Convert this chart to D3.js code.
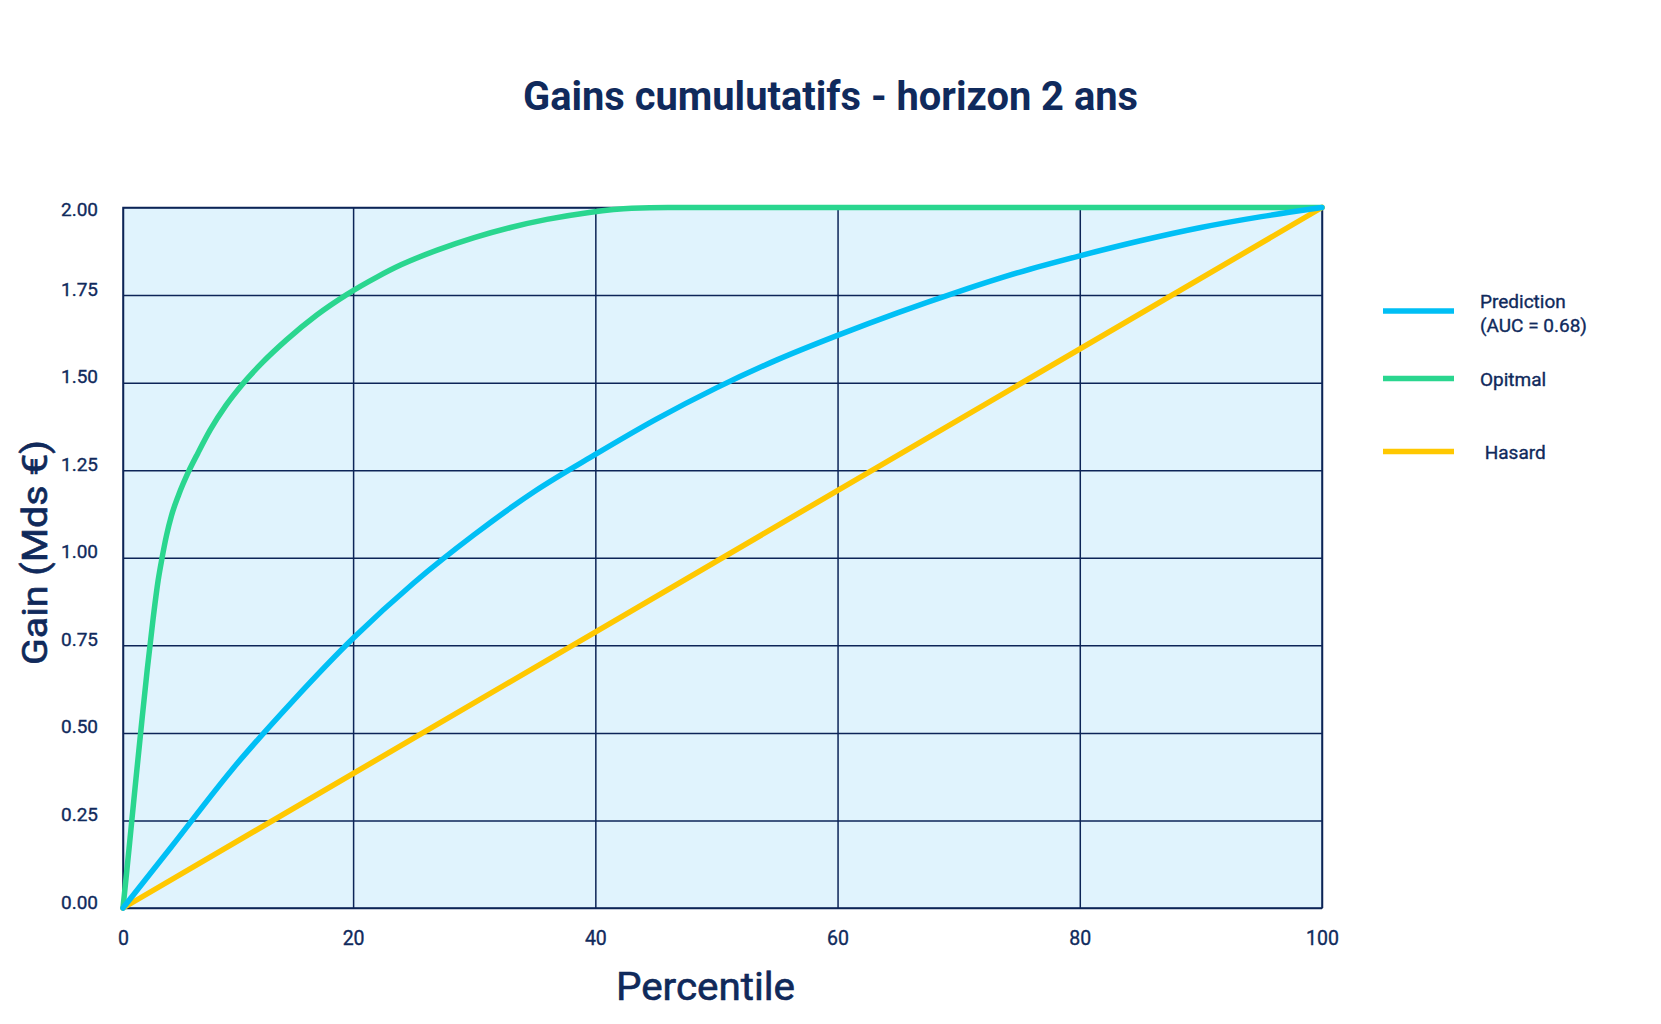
<!DOCTYPE html>
<html>
<head>
<meta charset="utf-8">
<script src="https://cdn.jsdelivr.net/npm/d3@7"></script>
<style>
  html, body { margin: 0; padding: 0; background: #ffffff; }
  svg { display: block; }
  text { font-family: Roboto, "Noto Sans", sans-serif; fill: #102a5c; }
</style>
</head>
<body>
<svg id="chart" width="1661" height="1024"></svg>
<script>
// ---------- data ----------
const title = "Gains cumulutatifs - horizon 2 ans";
const xTitle = "Percentile";
const yTitle = "Gain (Mds €)";

const xTickValues = [1, 20, 40, 60, 80, 100];
const xTickLabels = ["0", "20", "40", "60", "80", "100"];
const yTickValues = [0, 0.25, 0.5, 0.75, 1.0, 1.25, 1.5, 1.75, 2.0];

const seriesNames = ["Prediction\n(AUC = 0.68)", "Opitmal", " Hasard"];
const seriesColors = ["#00bff5", "#2ad68f", "#ffc800"];

// Prediction (model) cumulative gain
const predX = [1, 5, 10, 15, 20, 25, 30, 35, 40, 45, 50, 55, 60, 65, 70, 75, 80, 85, 90, 95, 100];
const predY = [0, 0.175, 0.395, 0.59, 0.77, 0.928, 1.066, 1.19, 1.295, 1.395, 1.485, 1.565, 1.635, 1.70, 1.76, 1.815, 1.862, 1.905, 1.943, 1.974, 2.0];

// Optimal cumulative gain
const optX = [1, 1.5, 2, 2.5, 3, 3.5, 3.9, 4.2, 4.6, 5.0, 5.6, 6.4, 7.2, 8.2, 9.5, 10.9, 12.5, 14.5, 17, 19.5, 22, 24, 27, 30, 33, 36, 39.5, 43, 46, 60, 80, 100];
const optY = [0, 0.17, 0.345, 0.515, 0.68, 0.83, 0.935, 0.995, 1.065, 1.12, 1.18, 1.245, 1.30, 1.365, 1.435, 1.497, 1.557, 1.622, 1.693, 1.752, 1.802, 1.837, 1.879, 1.914, 1.943, 1.966, 1.986, 1.998, 2.0, 2.0, 2.0, 2.0];

// Random (Hasard)
const randX = [1, 100];
const randY = [0, 2.0];

// ---------- layout ----------
const svg = d3.select("#chart");
const pLeft = 123, pRight = 1322, pTop = 207.5, pBottom = 908;
const navy = "#0c2457";

const x = d3.scaleLinear().domain([1, 100]).range([pLeft, pRight]);
const y = d3.scaleLinear().domain([0, 2]).range([pBottom, pTop]);

function fitWidth(sel, target) {
  const w = sel.node().getComputedTextLength();
  if (Math.abs(w - target) > 2) {
    sel.attr("textLength", target).attr("lengthAdjust", "spacingAndGlyphs");
  }
}

// plot background
svg.append("rect")
  .attr("x", pLeft).attr("y", pTop)
  .attr("width", pRight - pLeft).attr("height", pBottom - pTop)
  .attr("fill", "#e0f3fd");

// gridlines via axes
const gx = svg.append("g")
  .attr("transform", `translate(0,${pBottom})`)
  .call(d3.axisBottom(x).tickValues(xTickValues).tickSize(-(pBottom - pTop)).tickFormat((d, i) => xTickLabels[i]).tickPadding(23));
gx.select(".domain").remove();
gx.selectAll(".tick line").attr("stroke", navy).attr("stroke-width", 1.5);
gx.selectAll(".tick text")
  .attr("font-size", 19.5).attr("font-weight", 400)
  .attr("fill", "#102a5c").attr("font-family", "Roboto, sans-serif")
  .style("stroke", "#102a5c").style("stroke-width", 0.35);

const gy = svg.append("g")
  .attr("transform", `translate(${pLeft},0)`)
  .call(d3.axisLeft(y).tickValues(yTickValues).tickSize(-(pRight - pLeft)).tickFormat(d3.format(".2f")).tickPadding(25));
gy.select(".domain").remove();
gy.selectAll(".tick line").attr("stroke", navy).attr("stroke-width", 1.5);
gy.selectAll(".tick text")
  .attr("font-size", 19).attr("font-weight", 400)
  .attr("fill", "#102a5c").attr("font-family", "Roboto, sans-serif")
  .style("stroke", "#102a5c").style("stroke-width", 0.35)
  .attr("dy", d => d === 2 ? "0.4em" : "0")
  .attr("x", -(pLeft - 98));

// frame
svg.append("rect")
  .attr("x", pLeft).attr("y", pTop)
  .attr("width", pRight - pLeft).attr("height", pBottom - pTop)
  .attr("fill", "none").attr("stroke", navy).attr("stroke-width", 1.5);

// lines
const line = d3.line().x(d => x(d[0])).y(d => y(d[1])).curve(d3.curveMonotoneX);
const series = [
  { xs: optX, ys: optY, color: seriesColors[1] },
  { xs: randX, ys: randY, color: seriesColors[2] },
  { xs: predX, ys: predY, color: seriesColors[0] }
];
series.forEach(s => {
  svg.append("path")
    .datum(s.xs.map((v, i) => [v, s.ys[i]]))
    .attr("d", line)
    .attr("fill", "none")
    .attr("stroke", s.color)
    .attr("stroke-width", 5.5)
    .attr("stroke-linejoin", "round")
    .attr("stroke-linecap", "round");
});

// title
const t = svg.append("text")
  .attr("x", 830.5).attr("y", 110)
  .attr("text-anchor", "middle")
  .attr("font-size", 40).attr("font-weight", 700)
  .attr("fill", "#0d2656")
  .text(title);
fitWidth(t, 615);

// axis titles
const xt = svg.append("text")
  .attr("x", 705.5).attr("y", 1000)
  .attr("text-anchor", "middle")
  .attr("font-size", 38).attr("font-weight", 400)
  .attr("fill", "#0d2656")
  .style("stroke", "#0d2656").style("stroke-width", 0.6)
  .text(xTitle);
fitWidth(xt, 179);

const yt = svg.append("text")
  .attr("transform", "translate(47,552.5) rotate(-90)")
  .attr("text-anchor", "middle")
  .attr("font-size", 35).attr("font-weight", 400)
  .attr("fill", "#0d2656")
  .style("stroke", "#0d2656").style("stroke-width", 0.6)
  .text(yTitle);
fitWidth(yt, 225);

// legend
const legendLineY = [311, 378.5, 451.5];
const legendOrder = [0, 1, 2];
const legend = svg.append("g");
legendOrder.forEach((k, i) => {
  const ly = legendLineY[i];
  legend.append("line")
    .attr("x1", 1383).attr("x2", 1454)
    .attr("y1", ly).attr("y2", ly)
    .attr("stroke", seriesColors[k]).attr("stroke-width", 5.5);
  const lines = seriesNames[k].split("\n");
  const txt = legend.append("text")
    .attr("x", 1480)
    .attr("y", lines.length > 1 ? ly - 3.5 : ly + 7)
    .attr("font-size", 19).attr("font-weight", 400)
    .attr("fill", "#102a5c")
    .style("stroke", "#102a5c").style("stroke-width", 0.35)
    .style("white-space", "pre");
  lines.forEach((l, j) => {
    txt.append("tspan").attr("x", 1480).attr("dy", j === 0 ? 0 : 24.5).text(l);
  });
});
</script>
</body>
</html>
